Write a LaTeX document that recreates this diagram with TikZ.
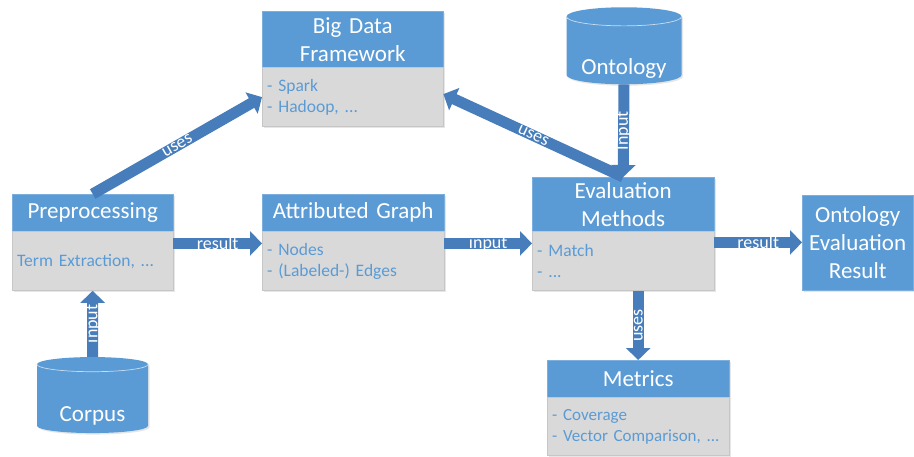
\documentclass[tikz,border=0pt]{standalone}
\usepackage{fontspec}
\setmainfont{Carlito}
\usetikzlibrary{arrows.meta}
\usetikzlibrary{calc}
\usetikzlibrary{shapes.geometric}
\usetikzlibrary{shadows}

\definecolor{boxblue}{RGB}{91,155,213}
\definecolor{arrowblue}{RGB}{70,125,186}
\definecolor{listgray}{RGB}{217,217,217}

\tikzset{
  head/.style={anchor=north west, fill=boxblue, draw=boxblue!80!white, text=white,
    font=\fontsize{23}{28}\selectfont, align=center, inner xsep=4pt, inner ysep=0pt,
    drop shadow={opacity=0.2, shadow xshift=1.5pt, shadow yshift=-1.5pt}},
  list/.style={anchor=north, fill=listgray, draw=gray!45, text=boxblue,
    font=\fontsize{17.5}{21}\selectfont, align=left, inner xsep=5pt, inner ysep=0pt,
    minimum height=59pt,
    drop shadow={opacity=0.2, shadow xshift=1.5pt, shadow yshift=-1.5pt}},
  can/.style={cylinder, shape border rotate=90, aspect=0.2, fill=boxblue,
    font=\fontsize{23}{28}\selectfont, minimum width=111pt, minimum height=76pt,
    drop shadow={opacity=0.2, shadow xshift=1.5pt, shadow yshift=-1.5pt}},
  cantext/.style={text=white, font=\fontsize{23}{28}\selectfont, yshift=-16pt},
  fat/.style={line width=11pt, draw=arrowblue, -{Triangle[width=24pt,length=12pt]}},
  tag/.style={text=white, font=\fontsize{18}{21}\selectfont, inner sep=0pt}
}

\begin{document}
\begin{tikzpicture}[x=1pt, y=-1pt]
  \useasboundingbox (0,0) rectangle (914,456);

  \node[head, text width=173pt, minimum height=56pt] (Frame) at (262,11) {Big Data\\Framework};
  \node[list, text width=171pt] (FrameList) at (Frame.south) {- Spark\\- Hadoop, ...};

  \node[head, text width=153pt, minimum height=37pt] (Pre) at (12,194) {Preprocessing};
  \node[list, text width=151pt] (PreList) at (Pre.south) {Term Extraction, ...};

  \node[head, text width=174pt, minimum height=37pt] (Graph) at (262,194) {Attributed Graph};
  \node[list, text width=172pt] (GraphList) at (Graph.south) {- Nodes\\- (Labeled-) Edges};

  \node[head, text width=174pt, minimum height=54pt] (Eval) at (532,177) {Evaluation\\Methods};
  \node[list, text width=172pt] (EvalList) at (Eval.south) {- Match\\- ...};

  \node[head, text width=103pt, minimum height=95pt] (Result) at (802,195) {Ontology\\Evaluation\\Result};

  \node[head, text width=174pt, minimum height=37pt] (Metrics) at (547,360) {Metrics};
  \node[list, text width=172pt, minimum height=58pt, font=\fontsize{17}{21}\selectfont] (MetricsList) at (Metrics.south) {- Coverage\\- Vector Comparison, ...};

  \node[can, label={[cantext]center:Corpus}] (Corpus) at (92.5,400) {\phantom{Corpus}};
  \node[can, minimum width=115pt, minimum height=77pt, label={[cantext]center:Ontology}] (Onto) at (624,52) {\phantom{Ontology}};
  \foreach \c in {Corpus, Onto}
    \draw[white!65!boxblue, line width=0.7pt] let \p1 = (\c.before top), \p2 = (\c.top), \p3 = (\c.after top) in
      ({min(\x1,\x3)},\y1) arc[start angle=180, end angle=360, x radius={abs(\x3-\x1)/2}, y radius={abs(\y2-\y1)}];

  \draw[fat] (Pre.north) -- node[tag, sloped] {uses} (FrameList.west);
  \draw[fat] (Eval.north) -- node[tag, sloped] {uses} ([yshift=3pt]FrameList.east);
  \draw[fat] (Onto.south) -- node[tag, rotate=90] {Input} (Eval.north);
  \draw[fat] (Corpus.north) -- node[tag, sloped] {input} (PreList.south);
  \draw[fat] ([yshift=-12pt]PreList.north east) -- node[tag] {result} ([yshift=-12pt]GraphList.north west);
  \draw[fat] ([yshift=-12pt]GraphList.north east) -- node[tag] {input} ([yshift=-12pt]EvalList.north west);
  \draw[fat] ([yshift=-11pt]EvalList.north east) -- node[tag] {result} ([yshift=-11pt]EvalList.north east -| Result.west);
  \draw[fat] (EvalList.south -| Metrics.north) -- node[tag, rotate=90] {uses} (Metrics.north);
\end{tikzpicture}
\end{document}
